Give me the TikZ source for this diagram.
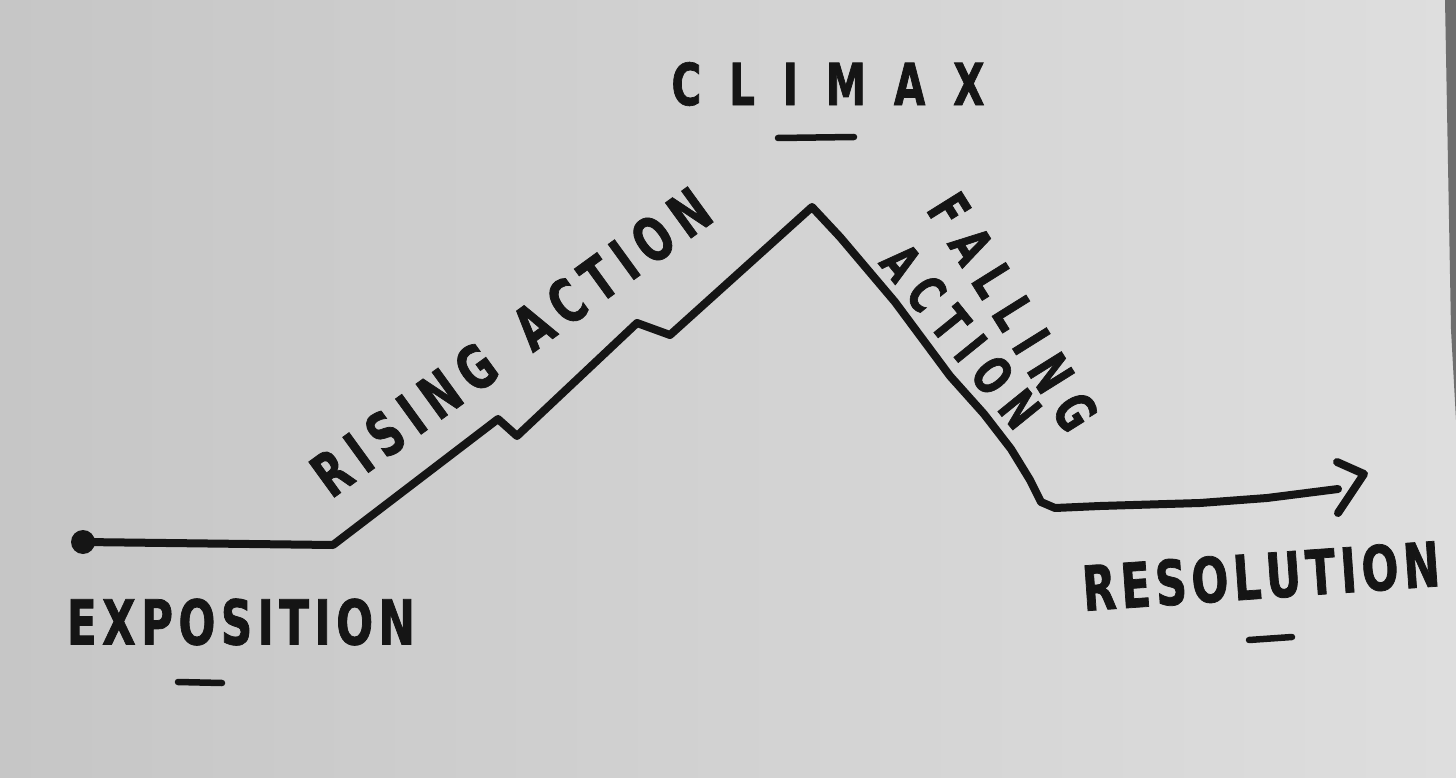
\documentclass[tikz,border=0pt]{standalone}
\usepackage{fontspec}
\setmainfont{DejaVu Sans}
\newfontfamily\handfont{DejaVu Sans}[FakeStretch=0.7, FakeBold=1.2]
\definecolor{ink}{HTML}{151515}
\definecolor{paperL}{HTML}{C6C6C6}
\definecolor{paperR}{HTML}{DEDEDE}
\definecolor{edge}{HTML}{6E6E6E}
\begin{document}
\begin{tikzpicture}[x=1pt,y=-1pt,
  hand/.style={inner sep=0pt, text=ink, font=\handfont\bfseries\fontsize{#1}{#1}\selectfont},
  hand/.default=60,
  storyline/.style={draw=ink, line width=8pt, line join=round, line cap=round},
  underline/.style={draw=ink, line width=6.5pt, line cap=round}]
\useasboundingbox (0,0) rectangle (1456,778);
\shade[left color=paperL, right color=paperR] (0,0) rectangle (1456,778);
\fill[edge] (1445,0) -- (1456,0) -- (1456,420) -- (1451,330) -- cycle;

% story line coordinates
\coordinate (start) at (83,542);
\coordinate (expoEnd) at (333,545);
\coordinate (r1) at (498,419);
\coordinate (r2) at (517,436);
\coordinate (r3) at (637,323);
\coordinate (r4) at (670,335);
\coordinate (peak) at (812,207);
\coordinate (f1) at (840,237);
\coordinate (f2) at (895,302);
\coordinate (f3) at (950,376);
\coordinate (f4) at (984,414);
\coordinate (f5) at (1011,449);
\coordinate (f6) at (1030,480);
\coordinate (bottom) at (1041,502);
\coordinate (h1) at (1055,508);
\coordinate (h2) at (1100,506);
\coordinate (h3) at (1200,503);
\coordinate (h4) at (1267,498);
\coordinate (tip) at (1338,489);
\coordinate (a1) at (1337,462);
\coordinate (a2) at (1364,474);
\coordinate (a3) at (1338,513);

\fill[ink] (start) circle (12pt);
\draw[storyline] (start) -- (expoEnd) -- (r1) -- (r2) -- (r3) -- (r4) -- (peak)
  -- (f1) -- (f2) -- (f3) -- (f4) -- (f5) -- (f6) -- (bottom) -- (h1) -- (h2) -- (h3) -- (h4) -- (tip);
\draw[storyline] (a1) -- (a2) -- (a3);

% labels
\node[hand=58] (climax) at (828,84) {\makebox[313pt][s]{C\hfill L\hfill I\hfill M\hfill A\hfill X}};
\node[hand=62] (expo) at (241,622) {\makebox[348pt][s]{E\hfill X\hfill P\hfill O\hfill S\hfill I\hfill T\hfill I\hfill O\hfill N}};
\node[hand=62, rotate=4] (reso) at (1261,576) {\makebox[358pt][s]{R\hfill E\hfill S\hfill O\hfill L\hfill U\hfill T\hfill I\hfill O\hfill N}};
\node[hand=60, rotate=36] (rising) at (511,342) {\makebox[476pt][s]{R\hfill I\hfill S\hfill I\hfill N\hfill G\hfill\hspace{18pt}\hfill A\hfill C\hfill T\hfill I\hfill O\hfill N}};
\node[hand=55, rotate=-58] (falling) at (1013,312) {\makebox[267pt][s]{F\hfill A\hfill L\hfill L\hfill I\hfill N\hfill G}};
\node[hand=52, rotate=-51] (falact) at (961,336) {\makebox[218pt][s]{A\hfill C\hfill T\hfill I\hfill O\hfill N}};

% underlines
\coordinate (u1a) at (778,138); \coordinate (u1b) at (854,137);
\coordinate (u2a) at (178,682); \coordinate (u2b) at (222,683);
\coordinate (u3a) at (1249,640); \coordinate (u3b) at (1292,637);
\draw[underline] (u1a) -- (u1b);
\draw[underline] (u2a) -- (u2b);
\draw[underline] (u3a) -- (u3b);
\end{tikzpicture}
\end{document}
